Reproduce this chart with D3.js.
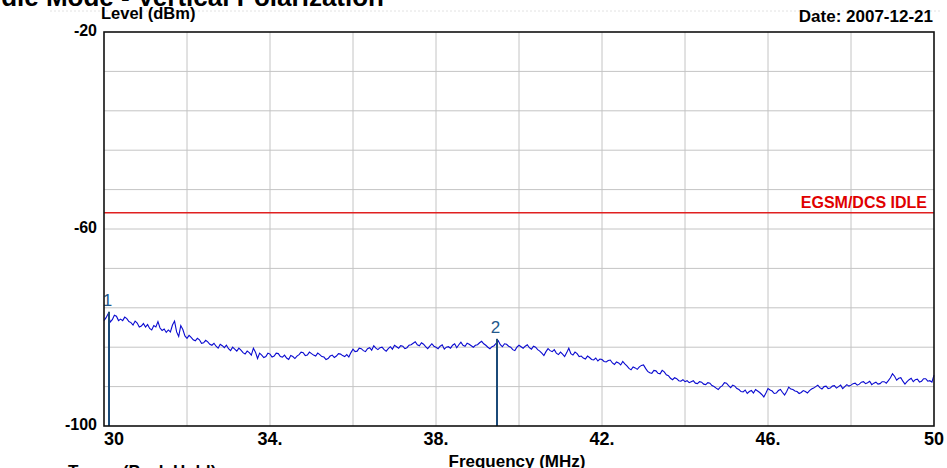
<!DOCTYPE html>
<html>
<head>
<meta charset="utf-8">
<script src="https://cdn.jsdelivr.net/npm/d3@7"></script>
<style>
  html, body { margin: 0; padding: 0; background: #fff; }
  svg { display: block; }
  text { font-family: Arial, "Liberation Sans", sans-serif; }
</style>
</head>
<body>
<svg id="chart" width="947" height="468"></svg>
<script>
// Sweep: 30–50 MHz in 0.05 MHz steps, measured level in dBm
const freqStart = 30;
const freqStep = 0.05;
const levels = [
  -78.6, -78.0, -77.2, -78.9, -78.4, -77.5, -77.7, -78.6, -78.3, -78.6, -77.9, -78.2, -78.8, -79.0, -79.5, -78.7, -79.1, -79.9, -79.7, -79.2,
  -79.9, -79.4, -80.2, -80.5, -79.6, -79.9, -78.8, -80.1, -80.6, -80.3, -81.0, -80.5, -80.9, -79.5, -78.7, -80.9, -81.8, -79.6, -80.4, -81.7,
  -82.2, -81.6, -82.0, -82.5, -82.7, -82.2, -82.5, -83.2, -83.1, -82.6, -82.9, -83.4, -83.6, -83.2, -83.8, -84.2, -83.4, -83.7, -84.1, -83.6,
  -84.3, -84.7, -84.0, -84.4, -84.8, -84.2, -84.6, -85.1, -85.4, -84.8, -85.1, -85.6, -84.2, -85.0, -86.3, -85.2, -85.6, -86.1, -85.9, -85.2,
  -85.4, -86.0, -85.8, -85.2, -85.3, -85.9, -86.0, -85.6, -86.2, -86.5, -85.7, -85.9, -86.3, -85.8, -85.5, -85.0, -85.1, -85.7, -85.6, -85.0,
  -85.3, -85.6, -85.8, -85.2, -85.5, -85.9, -86.0, -86.5, -86.3, -85.8, -85.6, -86.1, -85.8, -85.3, -85.4, -85.7, -85.9, -85.5, -86.0, -85.1,
  -84.4, -84.9, -84.8, -84.2, -84.3, -84.7, -84.9, -84.3, -84.1, -84.6, -83.7, -84.2, -84.5, -84.1, -84.0, -84.5, -84.8, -84.3, -83.9, -84.4,
  -83.6, -83.9, -84.2, -83.7, -83.8, -84.3, -84.1, -83.6, -83.5, -83.2, -82.9, -83.5, -83.7, -83.1, -83.4, -83.9, -84.3, -83.8, -83.3, -83.8,
  -84.0, -84.3, -83.8, -83.5, -84.4, -84.0, -83.9, -84.2, -83.6, -83.3, -84.1, -83.5, -83.0, -83.6, -83.8, -83.2, -83.4, -83.7, -84.0, -83.6,
  -83.5, -83.1, -82.8, -83.3, -83.6, -84.0, -84.3, -83.9, -83.7, -83.2, -82.7, -83.5, -83.9, -83.3, -83.4, -83.8, -84.0, -84.5, -84.7, -84.0,
  -83.6, -83.9, -84.2, -83.8, -83.5, -84.1, -84.4, -83.8, -84.0, -84.5, -84.8, -85.2, -85.7, -84.9, -84.3, -84.7, -84.9, -84.5, -85.2, -85.5,
  -85.0, -85.4, -85.9, -85.1, -84.2, -85.3, -85.6, -85.0, -85.3, -85.9, -85.8, -86.2, -86.4, -85.8, -86.1, -86.5, -86.6, -86.2, -86.8, -86.4,
  -86.5, -86.9, -87.0, -86.7, -86.6, -87.2, -87.5, -87.0, -87.2, -87.6, -86.9, -87.4, -87.8, -88.3, -88.6, -88.0, -88.2, -88.5, -88.0, -87.7,
  -87.6, -88.3, -88.9, -89.2, -89.3, -88.7, -88.8, -89.3, -89.4, -88.7, -89.0, -89.6, -89.8, -90.3, -90.6, -90.2, -90.4, -90.8, -90.9, -90.6,
  -91.0, -90.8, -91.2, -91.0, -90.8, -91.3, -91.4, -91.0, -91.1, -91.5, -91.6, -91.2, -91.3, -91.8, -92.0, -92.3, -92.6, -92.1, -91.8, -91.2,
  -91.3, -91.8, -92.2, -91.7, -91.9, -92.4, -92.6, -93.0, -93.1, -92.7, -93.4, -93.0, -92.8, -93.3, -92.6, -92.9, -93.2, -93.6, -94.1, -93.3,
  -92.4, -92.7, -92.9, -93.4, -93.3, -92.8, -92.6, -93.2, -93.7, -93.0, -92.1, -92.5, -92.6, -92.9, -93.0, -93.4, -93.2, -92.8, -93.0, -93.3,
  -92.8, -92.5, -92.3, -92.0, -91.7, -92.2, -92.5, -92.0, -91.9, -92.4, -92.3, -91.9, -91.8, -92.3, -92.0, -91.7, -92.4, -92.0, -91.6, -91.9,
  -91.7, -91.4, -91.3, -91.7, -91.5, -91.1, -91.0, -91.4, -91.2, -90.9, -91.6, -91.3, -91.1, -91.5, -91.4, -91.0, -91.0, -91.3, -90.8, -90.2,
  -89.4, -89.9, -90.7, -90.3, -90.2, -90.9, -91.5, -91.0, -90.6, -90.3, -91.0, -90.6, -90.5, -91.1, -90.9, -90.4, -90.4, -90.9, -90.8, -91.1,
  -89.7
];

// Limit line
const limitLevel = -56.7;
const limitLabel = "EGSM/DCS IDLE";

// Markers
const markerNames = ["1", "2"];
const markerFreqs = [30.12, 39.47];
const markerLevels = [-77.2, -82.7];

// Axes
const xGridTicks = [30, 32, 34, 36, 38, 40, 42, 44, 46, 48, 50];
const xLabelValues = [30, 34, 38, 42, 46, 50];
const xLabelTexts = ["30", "34.", "38.", "42.", "46.", "50"];
const yGridTicks = [-100, -92, -84, -76, -68, -60, -52, -44, -36, -28, -20];
const yLabelValues = [-20, -60, -100];
const yLabelTexts = ["-20", "-60", "-100"];

const titleText = "Idle Mode - Vertical Polarization";
const yAxisTitle = "Level (dBm)";
const xAxisTitle = "Frequency (MHz)";
const dateText = "Date: 2007-12-21";
const traceText = "Trace: (Peak Hold)";

const svg = d3.select("#chart");
const plot = { left: 104, right: 934, top: 32, bottom: 426 };

const x = d3.scaleLinear().domain([30, 50]).range([plot.left, plot.right]);
const y = d3.scaleLinear().domain([-100, -20]).range([plot.bottom, plot.top]);

const points = levels.map((v, i) => ({ f: freqStart + i * freqStep, v }));

const bold = sel => sel.style("font-weight", "bold");

// faint dotted rule above the plot
svg.append("line")
  .attr("x1", 50).attr("x2", 940).attr("y1", 11).attr("y2", 11)
  .attr("stroke", "#e2e2e2").attr("stroke-dasharray", "2,2");

// Title (runs off the top-left edge)
svg.append("text")
  .attr("x", 384).attr("y", 6)
  .attr("text-anchor", "end")
  .attr("font-size", 26)
  .attr("fill", "#000")
  .call(bold)
  .text(titleText);

// Grid
const grid = svg.append("g");
grid.selectAll("line.vx")
  .data(xGridTicks.slice(1, -1))
  .join("line")
  .attr("x1", d => x(d)).attr("x2", d => x(d))
  .attr("y1", plot.top).attr("y2", plot.bottom)
  .attr("stroke", "#c4c4c4").attr("stroke-width", 1);
grid.selectAll("line.hy")
  .data(yGridTicks.slice(1, -1))
  .join("line")
  .attr("x1", plot.left).attr("x2", plot.right)
  .attr("y1", d => y(d)).attr("y2", d => y(d))
  .attr("stroke", "#c4c4c4").attr("stroke-width", 1);

// Limit line + label
svg.append("line")
  .attr("x1", plot.left).attr("x2", plot.right)
  .attr("y1", y(limitLevel)).attr("y2", y(limitLevel))
  .attr("stroke", "#e02020").attr("stroke-width", 1.5);
svg.append("text")
  .attr("x", 927).attr("y", y(limitLevel) - 5)
  .attr("text-anchor", "end")
  .attr("font-size", 16)
  .attr("fill", "#e00000")
  .call(bold)
  .text(limitLabel);

// Trace
const line = d3.line().x(d => x(d.f)).y(d => y(d.v));
svg.append("path")
  .datum(points)
  .attr("d", line)
  .attr("fill", "none")
  .attr("stroke", "#0a0ad0")
  .attr("stroke-width", 1.1);

// Markers
const markers = markerNames.map((n, i) => ({ n, f: markerFreqs[i], v: markerLevels[i] }));
svg.selectAll("line.marker")
  .data(markers)
  .join("line")
  .attr("x1", d => x(d.f)).attr("x2", d => x(d.f))
  .attr("y1", plot.bottom).attr("y2", d => y(d.v) - 2)
  .attr("stroke", "#1b4a78").attr("stroke-width", 2);
svg.selectAll("text.marker")
  .data(markers)
  .join("text")
  .attr("x", d => x(d.f) - 1.5).attr("y", d => y(d.v) - 7.5)
  .attr("text-anchor", "middle")
  .attr("font-size", 17)
  .style("font-weight", "normal")
  .attr("fill", "#23598c")
  .text(d => d.n);

// Plot frame
svg.append("rect")
  .attr("x", plot.left).attr("y", plot.top)
  .attr("width", plot.right - plot.left).attr("height", plot.bottom - plot.top)
  .attr("fill", "none").attr("stroke", "#111").attr("stroke-width", 1.6);

// Y labels
svg.selectAll("text.ylab")
  .data(yLabelValues)
  .join("text")
  .attr("x", 97).attr("y", d => y(d) + 4)
  .attr("text-anchor", "end")
  .attr("font-size", 16)
  .attr("fill", "#000")
  .call(bold)
  .text((d, i) => yLabelTexts[i]);

// X labels
svg.selectAll("text.xlab")
  .data(xLabelValues)
  .join("text")
  .attr("x", d => x(d))
  .attr("y", plot.bottom + 19)
  .attr("text-anchor", d => d === 30 ? "start" : "middle")
  .attr("font-family", "'Liberation Serif', 'Times New Roman', serif")
  .attr("font-size", 18)
  .attr("fill", "#000")
  .call(bold)
  .text((d, i) => xLabelTexts[i]);

// Axis titles and header text
svg.append("text")
  .attr("x", 101).attr("y", 19)
  .attr("font-size", 16.5).attr("fill", "#000")
  .call(bold)
  .text(yAxisTitle);
svg.append("text")
  .attr("x", 933).attr("y", 22)
  .attr("text-anchor", "end")
  .attr("font-size", 17).attr("fill", "#000")
  .call(bold)
  .text(dateText);
svg.append("text")
  .attr("x", 517).attr("y", 467)
  .attr("text-anchor", "middle")
  .attr("font-size", 17).attr("fill", "#000")
  .call(bold)
  .text(xAxisTitle);
svg.append("text")
  .attr("x", 68).attr("y", 477)
  .attr("font-size", 17).attr("fill", "#000")
  .call(bold)
  .text(traceText);
</script>
</body>
</html>
